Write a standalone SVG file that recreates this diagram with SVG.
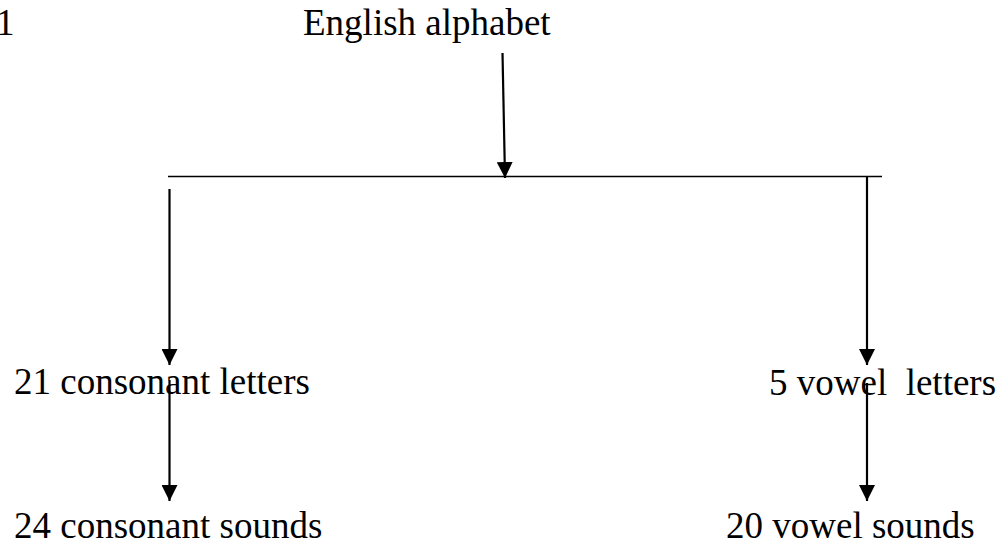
<svg xmlns="http://www.w3.org/2000/svg" width="1007" height="546" viewBox="0 0 1007 546">
<style>
  text { font-family: "Liberation Serif", "Times New Roman", serif; font-size: 37px; fill: #000; }
  .ln { stroke: #000; stroke-width: 2.2; fill: none; }
  .hl { stroke: #000; stroke-width: 1.6; fill: none; }
</style>
<defs>
  <marker id="ah" viewBox="0 0 16 16" refX="16" refY="8" markerWidth="16" markerHeight="16" markerUnits="userSpaceOnUse" orient="auto">
    <path d="M0,0 L16,8 L0,16 Z" fill="#000"/>
  </marker>
</defs>
<rect width="1007" height="546" fill="#fff"/>
<g id="fig-number"><text x="-4" y="35">1</text></g>
<g id="node-alphabet"><text x="303" y="35">English alphabet</text></g>
<g id="node-consonant-letters"><text x="14" y="394">21 consonant letters</text></g>
<g id="node-vowel-letters"><text x="769" y="395" xml:space="preserve">5 vowel  letters</text></g>
<g id="node-consonant-sounds"><text x="14" y="538">24 consonant sounds</text></g>
<g id="node-vowel-sounds"><text x="726" y="538">20 vowel sounds</text></g>
<g id="connectors">
  <line class="hl" x1="168" y1="176.5" x2="882" y2="176.5"/>
  <line class="ln" x1="502.5" y1="53" x2="505" y2="178" marker-end="url(#ah)"/>
  <line class="ln" x1="169.5" y1="189" x2="169.5" y2="365" marker-end="url(#ah)"/>
  <line class="ln" x1="169.5" y1="380" x2="169.5" y2="501" marker-end="url(#ah)"/>
  <line class="ln" x1="867" y1="177" x2="867" y2="365" marker-end="url(#ah)"/>
  <line class="ln" x1="867" y1="383" x2="867" y2="501" marker-end="url(#ah)"/>
</g>
</svg>
